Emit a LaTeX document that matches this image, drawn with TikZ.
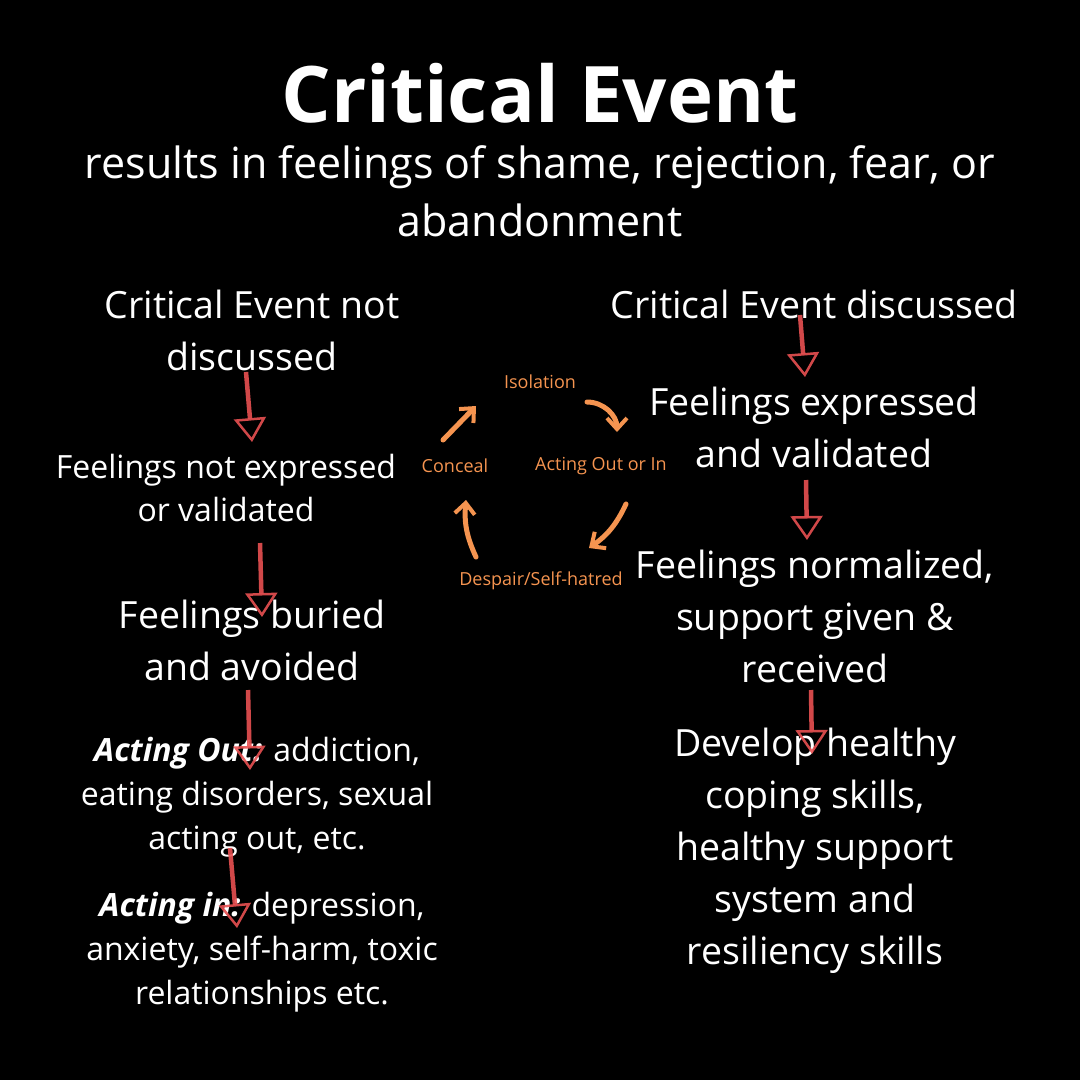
\documentclass[tikz,border=0pt]{standalone}
\usepackage{fontspec}
\setmainfont{Open Sans}
\usetikzlibrary{arrows.meta}
\definecolor{cyclecol}{RGB}{245,148,80}
\definecolor{flowred}{RGB}{232,80,82}
\tikzset{
  titletxt/.style={text=white, inner sep=0pt, font=\fontsize{78}{90}\bfseries\selectfont},
  subtxt/.style={text=white, align=center, inner sep=0pt, font=\fontsize{43}{58}\selectfont},
  bigtxt/.style={text=white, align=center, inner sep=0pt, font=\fontsize{37.5}{52}\selectfont},
  midtxt/.style={text=white, align=center, inner sep=0pt, font=\fontsize{32}{43}\selectfont},
  smalltxt/.style={text=white, align=center, inner sep=0pt, font=\fontsize{32}{44}\selectfont},
  cyctxt/.style={text=cyclecol, inner sep=0pt, font=\fontsize{18}{20}\selectfont},
  flow/.style={draw=flowred, line width=4.5pt, opacity=.9,
    -{Triangle[open, length=24pt, width=32pt, line width=2.5pt]}},
  cycarrow/.style={draw=cyclecol, line width=5pt, line cap=round,
    -{Straight Barb[length=11pt, width=20pt, line width=4pt]}}
}
\begin{document}
\begin{tikzpicture}[x=1pt, y=-1pt]
  \fill[black] (0,0) rectangle (1080,1080);
  % header
  \node (title) [titletxt] at (540,93) {Critical Event};
  \node (sub) [subtxt] at (540,191) {results in feelings of shame, rejection, fear, or\\abandonment};
  % left column
  \node (notdisc) [bigtxt] at (252,330) {Critical Event not\\discussed};
  \node (notexp) [midtxt] at (226,488) {Feelings not expressed\\or validated};
  \node (buried) [bigtxt] at (252,640) {Feelings buried\\and avoided};
  \node (actout) [smalltxt] at (257,797) {\textbf{\textit{Acting Out:}} addiction,\\eating disorders, sexual\\acting out, etc.};
  \node (actin) [smalltxt] at (262,952) {\textbf{\textit{Acting in:}} depression,\\anxiety, self-harm, toxic\\relationships etc.};
  % right column
  \node (disc) [bigtxt] at (814,304) {Critical Event discussed};
  \node (exp) [bigtxt] at (814,427) {Feelings expressed\\and validated};
  \node (norm) [bigtxt] at (815,616) {Feelings normalized,\\support given \&\\received};
  \node (develop) [bigtxt] at (815,851) {Develop healthy\\coping skills,\\healthy support\\system and\\resiliency skills};
  % cycle
  \node (isol) [cyctxt] at (540,382) {Isolation};
  \node (conceal) [cyctxt] at (455,466) {Conceal};
  \node (acting) [cyctxt] at (601,466) {Acting Out or In};
  \node (despair) [cyctxt] at (541,581) {Despair/Self-hatred};
  \draw[cycarrow] ([xshift=-12pt, yshift=26pt]conceal.center) -- ([xshift=-64pt, yshift=-24pt]isol.center);
  \draw[cycarrow] ([xshift=47pt, yshift=-20pt]isol.center) to[bend left=45] ([xshift=16pt, yshift=34pt]acting.center);
  \draw[cycarrow] ([xshift=25pt, yshift=-38pt]acting.center) to[bend left=15] ([xshift=48pt, yshift=33pt]despair.center);
  \draw[cycarrow] ([xshift=-65pt, yshift=24pt]despair.center) to[bend left=15] ([xshift=11pt, yshift=-34pt]conceal.center);
  % flows
  \draw[flow] ([xshift=-6pt, yshift=-42pt]notdisc.center) -- ([xshift=26pt, yshift=46pt]notexp.center);
  \draw[flow] ([xshift=34pt, yshift=-55pt]notexp.center) -- ([xshift=10pt, yshift=23pt]buried.center);
  \draw[flow] ([xshift=-4pt, yshift=-50pt]buried.center) -- ([xshift=-7pt, yshift=27pt]actout.center);
  \draw[flow] ([xshift=-27pt, yshift=-51pt]actout.center) -- ([xshift=-25pt, yshift=24pt]actin.center);
  \draw[flow] ([xshift=-14pt, yshift=-11pt]disc.center) -- ([xshift=-9pt, yshift=50pt]exp.center);
  \draw[flow] ([xshift=-8pt, yshift=-53pt]exp.center) -- ([xshift=-8pt, yshift=76pt]norm.center);
  \draw[flow] ([xshift=-4pt, yshift=-74pt]norm.center) -- ([xshift=-3pt, yshift=97pt]develop.center);
\end{tikzpicture}
\end{document}
